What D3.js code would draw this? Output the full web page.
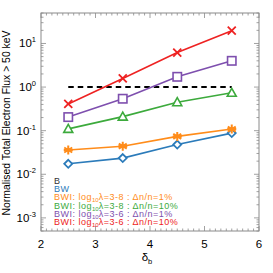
<!DOCTYPE html>
<html>
<head>
<meta charset="utf-8">
<script src="https://cdn.jsdelivr.net/npm/d3@7"></script>
<style>
body { margin: 0; background: #fff; }
text { font-family: "Liberation Sans", Arial, sans-serif; }
</style>
</head>
<body>
<div id="vis"></div>
<script>
// set margin (plot frame ~ x 41..259, y 13..231)
const margin = { top: 13, right: 14, bottom: 42, left: 41 };
const width = 273 - margin.left - margin.right;
const height = 273 - margin.top - margin.bottom;

// data
const deltaB = [2.5, 3.5, 4.5, 5.5];
const fluxBW = [0.0174, 0.0235, 0.048, 0.088];
const fluxLow1 = [0.036, 0.044, 0.074, 0.109];   // log10 lambda 3-8, 1%
const fluxLow10 = [0.11, 0.21, 0.45, 0.74];      // log10 lambda 3-8, 10%
const fluxHigh1 = [0.205, 0.54, 1.72, 4.0];      // log10 lambda 3-6, 1%
const fluxHigh10 = [0.41, 1.58, 6.2, 19.6];      // log10 lambda 3-6, 10%
const refLevel = 1;
const xTicks = [2, 3, 4, 5, 6];
const yTicks = [1e-3, 1e-2, 1e-1, 1e0, 1e1];

const series = [
    { name: 'BW', values: fluxBW, color: '#2b7bba', marker: 'diamond' },
    { name: 'low1', values: fluxLow1, color: '#ff8c1a', marker: 'star' },
    { name: 'low10', values: fluxLow10, color: '#3caa3c', marker: 'triangle' },
    { name: 'high1', values: fluxHigh1, color: '#7e4fae', marker: 'square' },
    { name: 'high10', values: fluxHigh10, color: '#ee2222', marker: 'cross' }
];

const axisColor = '#8a8a8a';

const svg = d3.select('#vis')
    .append('svg')
    .attr('width', 273)
    .attr('height', 273)
    .append('g')
    .attr('transform', `translate(${margin.left},${margin.top})`);

const xScale = d3.scaleLinear().domain([2, 6]).range([0, width]);
const yScale = d3.scaleLog().domain([5e-4, 50]).range([height, 0]);

// frame
svg.append('rect')
    .attr('width', width).attr('height', height)
    .attr('fill', 'none').attr('stroke', axisColor).attr('stroke-width', 1);

// x ticks (minor every 0.1) on bottom and top
const xMinor = d3.range(20, 61).map(d => d / 10);
xMinor.forEach(v => {
    const major = Math.abs(v - Math.round(v)) < 1e-6;
    const len = major ? 5 : 2.5;
    const x = xScale(v);
    svg.append('line').attr('x1', x).attr('x2', x).attr('y1', height).attr('y2', height - len)
        .attr('stroke', axisColor).attr('stroke-width', 0.8);
    svg.append('line').attr('x1', x).attr('x2', x).attr('y1', 0).attr('y2', len)
        .attr('stroke', axisColor).attr('stroke-width', 0.8);
});

// y ticks (log minor) on left and right
const yMinor = [];
for (let e = -4; e <= 1; e++) {
    for (let m = 1; m < 10; m++) {
        const v = m * Math.pow(10, e);
        if (v >= 5e-4 && v <= 50) yMinor.push({ v: v, major: m === 1 });
    }
}
yMinor.forEach(d => {
    const y = yScale(d.v);
    const len = d.major ? 5 : 2.5;
    svg.append('line').attr('x1', 0).attr('x2', len).attr('y1', y).attr('y2', y)
        .attr('stroke', axisColor).attr('stroke-width', 0.8);
    svg.append('line').attr('x1', width).attr('x2', width - len).attr('y1', y).attr('y2', y)
        .attr('stroke', axisColor).attr('stroke-width', 0.8);
});

// x tick labels
svg.selectAll('.xlab')
    .data(xTicks)
    .join('text')
    .attr('class', 'xlab')
    .attr('x', d => xScale(d))
    .attr('y', height + 17)
    .attr('text-anchor', 'middle')
    .style('font-size', '11.5px')
    .text(d => d);

// y tick labels 10^n
yTicks.forEach(v => {
    const t = svg.append('text')
        .attr('x', -5)
        .attr('y', yScale(v) + 4)
        .attr('text-anchor', 'end')
        .style('font-size', '11.5px');
    t.append('tspan').text('10');
    t.append('tspan').attr('dy', -5).style('font-size', '7.5px').text(Math.round(Math.log10(v)));
});

// axis labels
svg.append('text')
    .attr('transform', 'rotate(-90)')
    .attr('x', -(height / 2 + 1))
    .attr('y', -31)
    .attr('text-anchor', 'middle')
    .style('font-size', '10.4px')
    .text('Normalised Total Electron Flux > 50 keV');

const xl = svg.append('text')
    .attr('x', xScale(4) - 3)
    .attr('y', height + 30)
    .attr('text-anchor', 'middle')
    .style('font-size', '11.5px');
xl.append('tspan').text('δ');
xl.append('tspan').attr('dy', 3).style('font-size', '7.5px').text('b');

// dashed reference line
svg.append('line')
    .attr('x1', xScale(deltaB[0])).attr('x2', xScale(deltaB[deltaB.length - 1]))
    .attr('y1', yScale(refLevel)).attr('y2', yScale(refLevel))
    .attr('stroke', '#000').attr('stroke-width', 2)
    .attr('stroke-dasharray', '5.5,4');

// lines
const line = d3.line().x((d, i) => xScale(deltaB[i])).y(d => yScale(d));
series.forEach(s => {
    svg.append('path')
        .attr('d', line(s.values))
        .attr('fill', 'none')
        .attr('stroke', s.color)
        .attr('stroke-width', 1.6);

    const g = svg.append('g');
    s.values.forEach((v, i) => {
        const x = xScale(deltaB[i]), y = yScale(v);
        const m = g.append('g').attr('transform', `translate(${x},${y})`);
        if (s.marker === 'cross') {
            m.append('path').attr('d', 'M-4,-4L4,4M-4,4L4,-4')
                .attr('stroke', s.color).attr('stroke-width', 1.8);
        } else if (s.marker === 'square') {
            m.append('rect').attr('x', -4.2).attr('y', -4.2).attr('width', 8.4).attr('height', 8.4)
                .attr('fill', '#fff').attr('stroke', s.color).attr('stroke-width', 1.6);
        } else if (s.marker === 'triangle') {
            m.append('path').attr('d', 'M0,-4.5L4.5,3.5L-4.5,3.5Z')
                .attr('fill', '#fff').attr('stroke', s.color).attr('stroke-width', 1.6);
        } else if (s.marker === 'star') {
            m.append('path').attr('d', 'M0,-4.5L0,4.5M-4,-2.5L4,2.5M-4,2.5L4,-2.5M-4.5,0L4.5,0')
                .attr('stroke', s.color).attr('stroke-width', 2);
        } else if (s.marker === 'diamond') {
            m.append('path').attr('d', 'M0,-4L4,0L0,4L-4,0Z')
                .attr('fill', '#fff').attr('stroke', s.color).attr('stroke-width', 1.8);
        }
    });
});

// legend
const legendItems = [
    { color: '#333333', parts: ['B'] },
    { color: '#2b7bba', parts: ['BW'] },
    { color: '#ff8c1a', parts: ['BWI: log', '10', 'λ=3-8 : Δn/n=1%'] },
    { color: '#3caa3c', parts: ['BWI: log', '10', 'λ=3-8 : Δn/n=10%'] },
    { color: '#7e4fae', parts: ['BWI: log', '10', 'λ=3-6 : Δn/n=1%'] },
    { color: '#ee2222', parts: ['BWI: log', '10', 'λ=3-6 : Δn/n=10%'] }
];
legendItems.forEach((d, i) => {
    const t = svg.append('text')
        .attr('x', 13)
        .attr('y', 171 + i * 8.2)
        .style('font-size', '9px')
        .style('letter-spacing', '0.5px')
        .attr('fill', d.color);
    t.append('tspan').text(d.parts[0]);
    if (d.parts.length > 1) {
        t.append('tspan').attr('dy', 2).style('font-size', '6px').style('letter-spacing', '0px').text(d.parts[1]);
        t.append('tspan').attr('dy', -2).text(d.parts[2]);
    }
});
</script>
</body>
</html>
